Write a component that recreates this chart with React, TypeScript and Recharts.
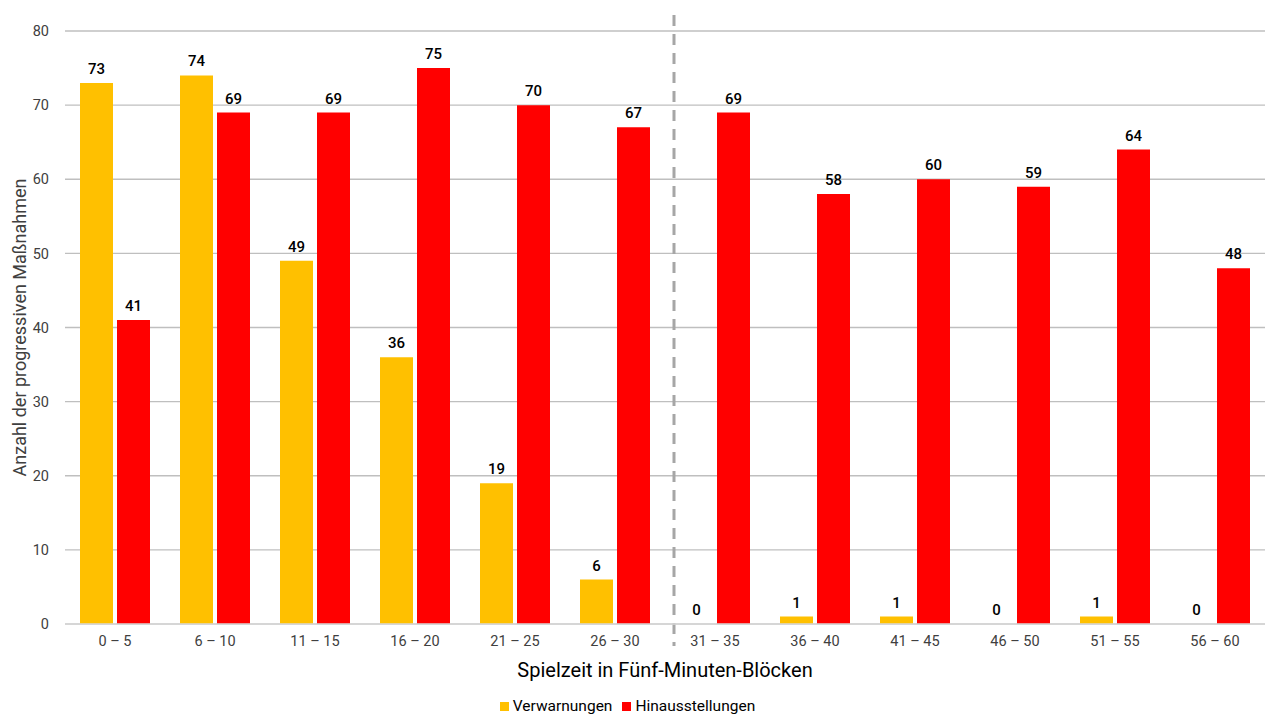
import { BarChart, Bar, XAxis, YAxis, CartesianGrid, Legend, LabelList, ReferenceLine } from 'recharts';

// Spielzeit-Blöcke
const blocks = [
  '0 – 5', '6 – 10', '11 – 15', '16 – 20', '21 – 25', '26 – 30',
  '31 – 35', '36 – 40', '41 – 45', '46 – 50', '51 – 55', '56 – 60',
];
const verwarnungen = [73, 74, 49, 36, 19, 6, 0, 1, 1, 0, 1, 0];
const hinausstellungen = [41, 69, 69, 75, 70, 67, 69, 58, 60, 59, 64, 48];
const yTicks = [0, 10, 20, 30, 40, 50, 60, 70, 80];
const halftimeBlock = '31 – 35';
const seriesOrder = ['verwarnungen', 'hinausstellungen'];

const data = blocks.map((block, i) => ({
  block,
  verwarnungen: verwarnungen[i],
  hinausstellungen: hinausstellungen[i],
}));

const font = 'Roboto, "Noto Sans", sans-serif';

// dashed half-time separator, drawn a bit beyond the plot area
const HalftimeLine = (props: any) => {
  const { x1, y1, x2, y2 } = props;
  const top = Math.min(y1, y2);
  const bottom = Math.max(y1, y2);
  return (
    <line
      x1={x1 + 9}
      y1={top - 16}
      x2={x2 + 9}
      y2={bottom + 22}
      stroke="#A6A6A6"
      strokeWidth={3}
      strokeDasharray="11 8"
    />
  );
};

// keep zero-value bars so their "0" label is still drawn
const zeroSize = (value: any) => (value === 0 ? 0.01 : 0);

const labelProps = { position: 'top' as const, offset: 9, fill: '#000', fontSize: 15, fontWeight: 500, fontFamily: font };

const App = () => {
  return (
    <div style={{ position: 'absolute', left: 0, top: 0, width: 1280, height: 720, background: '#fff', fontFamily: font }}>
      <BarChart
        width={1280}
        height={720}
        data={data}
        margin={{ top: 31, right: 15, left: 0, bottom: 0 }}
        barSize={33}
        barGap={4}
      >
        <CartesianGrid vertical={false} stroke="#BFBFBF" strokeWidth={1.3} />
        <XAxis
          dataKey="block"
          height={66}
          tickLine={false}
          axisLine={{ stroke: '#D9D9D9', strokeWidth: 1.5 }}
          tick={{ fill: '#404040', fontSize: 14.5, fontFamily: font }}
          tickMargin={6}
          label={{
            value: 'Spielzeit in Fünf-Minuten-Blöcken',
            position: 'insideBottom',
            offset: 13,
            fill: '#000',
            fontSize: 20,
            fontFamily: font,
          }}
        />
        <YAxis
          width={65}
          domain={[0, 80]}
          ticks={yTicks}
          tickLine={false}
          axisLine={false}
          tick={{ fill: '#404040', fontSize: 14.5, fontFamily: font }}
          tickMargin={10}
          label={{
            value: 'Anzahl der progressiven Maßnahmen',
            angle: -90,
            position: 'insideLeft',
            offset: 20,
            fill: '#404040',
            fontSize: 18,
            fontFamily: font,
            style: { textAnchor: 'middle' },
          }}
        />
        <ReferenceLine x={halftimeBlock} position="start" shape={HalftimeLine} ifOverflow="visible" />
        <Legend
          verticalAlign="bottom"
          height={30}
          iconType="square"
          iconSize={9}
          wrapperStyle={{ bottom: -6 }}
          itemSorter={(item: any) => seriesOrder.indexOf(item.dataKey)}
          formatter={(value) => <span style={{ color: '#000', fontSize: 15.5, fontFamily: font }}>{value}</span>}
        />
        <Bar dataKey="verwarnungen" name="Verwarnungen" fill="#FFC000" minPointSize={zeroSize} isAnimationActive={false}>
          <LabelList dataKey="verwarnungen" {...labelProps} />
        </Bar>
        <Bar dataKey="hinausstellungen" name="Hinausstellungen" fill="#FF0000" isAnimationActive={false}>
          <LabelList dataKey="hinausstellungen" {...labelProps} />
        </Bar>
      </BarChart>
    </div>
  );
};

export default App;
